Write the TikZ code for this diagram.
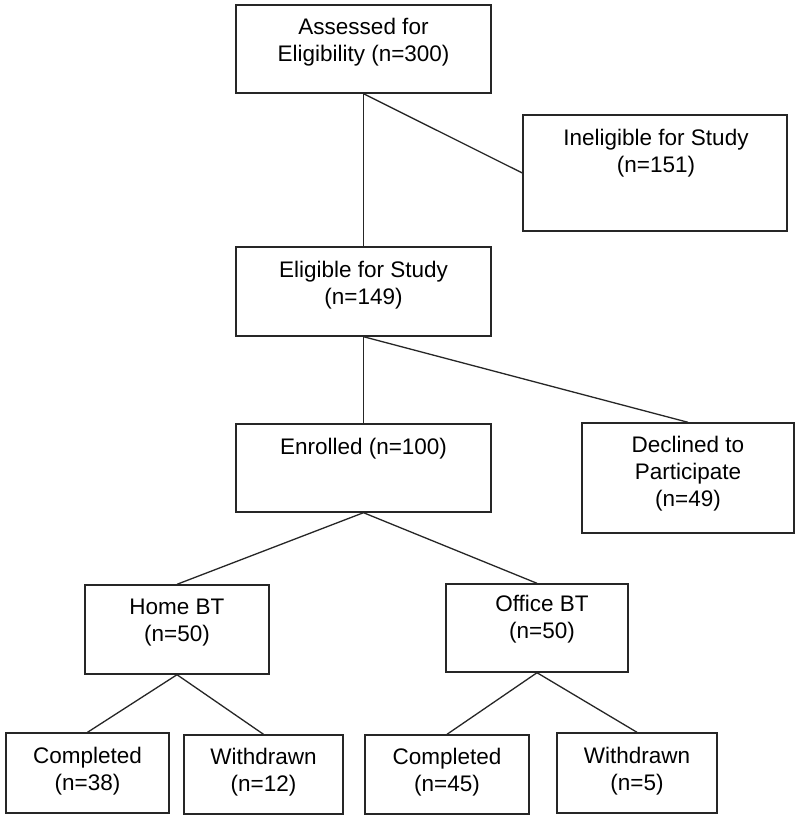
\documentclass[tikz,border=0pt]{standalone}
\usepackage{fontspec}
\setmainfont{Liberation Sans}
\begin{document}
\begin{tikzpicture}[x=1pt,y=-1pt,
  box/.style={draw=black!85, line width=1.4pt, inner sep=0pt, rectangle},
  lbl/.style={inner sep=0pt, align=center, yshift=-2.5pt, font=\fontsize{22.5}{27}\selectfont},
  conn/.style={draw=black!85, line width=1.3pt}]
\useasboundingbox[fill=white] (0,0) rectangle (800,818);
% boxes
\node[box, minimum width=255pt, minimum height=88pt] (b1) at (363.5,49) {};
\node[box, minimum width=264pt, minimum height=116pt] (b2) at (655,173) {};
\node[box, minimum width=255pt, minimum height=89pt] (b3) at (363.5,291.5) {};
\node[box, minimum width=255pt, minimum height=88pt] (b4) at (363.5,468) {};
\node[box, minimum width=212pt, minimum height=110pt] (b5) at (688,478) {};
\node[box, minimum width=184pt, minimum height=89pt] (b6) at (177,629.5) {};
\node[box, minimum width=182pt, minimum height=88pt] (b7) at (537,628) {};
\node[box, minimum width=163pt, minimum height=80pt] (b8) at (87.5,773) {};
\node[box, minimum width=159pt, minimum height=79pt] (b9) at (263.5,774.5) {};
\node[box, minimum width=164pt, minimum height=79pt] (b10) at (447,774.5) {};
\node[box, minimum width=160pt, minimum height=80pt] (b11) at (637,773) {};
% texts
\node[lbl] (t1) at (363.5,40) {Assessed for\\Eligibility (n=300)};
\node[lbl] (t2) at (656,151) {Ineligible for Study\\(n=151)};
\node[lbl] (t3) at (363.5,283) {Eligible for Study\\(n=149)};
\node[lbl] (t4) at (363.5,446) {Enrolled (n=100)};
\node[lbl] (t5) at (688,471) {Declined to\\Participate\\(n=49)};
\node[lbl] (t6) at (177,620) {Home BT\\(n=50)};
\node[lbl] (t7) at (542,617) {Office BT\\(n=50)};
\node[lbl] (t8) at (87.5,769) {Completed\\(n=38)};
\node[lbl] (t9) at (263.5,770) {Withdrawn\\(n=12)};
\node[lbl] (t10) at (447,770) {Completed\\(n=45)};
\node[lbl] (t11) at (637,769) {Withdrawn\\(n=5)};
% connectors
\draw[conn] (b1.south) -- (b3.north);
\draw[conn] (b1.south) -- (b2.west);
\draw[conn] (b3.south) -- (b4.north);
\draw[conn] (b3.south) -- (b5.north);
\draw[conn] (b4.south) -- (b6.north);
\draw[conn] (b4.south) -- (b7.north);
\draw[conn] (b6.south) -- (b8.north);
\draw[conn] (b6.south) -- (b9.north);
\draw[conn] (b7.south) -- (b10.north);
\draw[conn] (b7.south) -- (b11.north);
\end{tikzpicture}
\end{document}
